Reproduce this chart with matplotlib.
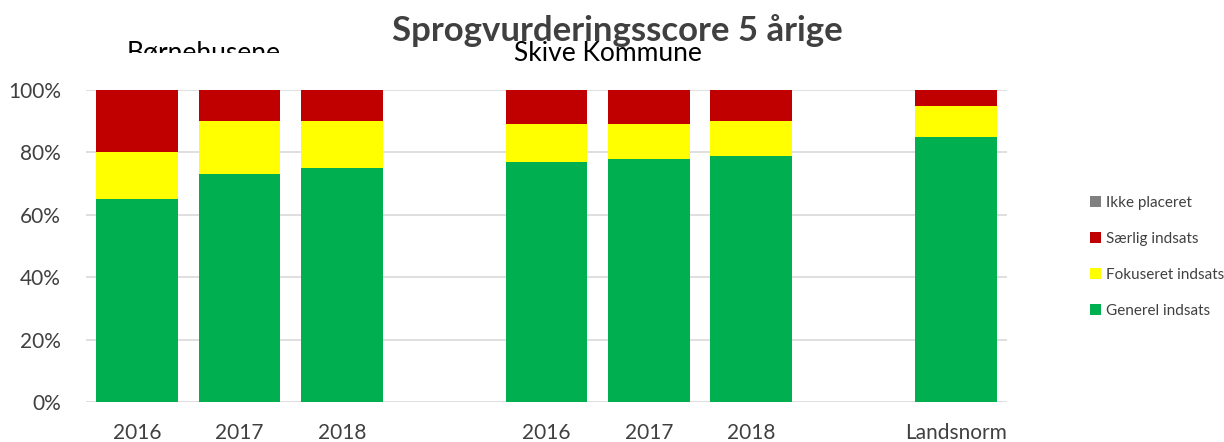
import matplotlib.pyplot as plt
from matplotlib.transforms import Bbox, TransformedBbox

plt.rcParams['font.family'] = ['Lato', 'DejaVu Sans']

positions = [0, 1, 2, 4, 5, 6, 8]
tick_labels = ['2016', '2017', '2018', '2016', '2017', '2018', 'Landsnorm']
generel = [65, 73, 75, 77, 78, 79, 85]
fokuseret = [15, 17, 15, 12, 11, 11, 10]
saerlig = [20, 10, 10, 11, 11, 10, 5]
ikke = [0, 0, 0, 0, 0, 0, 0]

series = [('Generel indsats', generel, '#00B050'),
          ('Fokuseret indsats', fokuseret, '#FFFF00'),
          ('Særlig indsats', saerlig, '#C00000'),
          ('Ikke placeret', ikke, '#808080')]

fig = plt.figure(figsize=(12.24, 4.42), dpi=100)
ax = fig.add_axes([0.0703, 0.0905, 0.7524, 0.7059])

bottom = [0] * len(positions)
handles = []
for name, vals, col in series:
    b = ax.bar(positions, vals, 0.8, bottom=bottom, color=col, label=name, zorder=2)
    handles.append(b)
    bottom = [a + v for a, v in zip(bottom, vals)]

ax.set_xlim(-0.5, 8.5)
ax.set_ylim(0, 100)
ax.set_yticks([0, 20, 40, 60, 80, 100])
ax.set_yticklabels(['0%', '20%', '40%', '60%', '80%', '100%'])
ax.set_xticks(positions)
ax.set_xticklabels(tick_labels)
ax.tick_params(axis='both', length=0, labelsize=15, labelcolor='#404040')
ax.tick_params(axis='x', pad=15)
ax.tick_params(axis='y', pad=18)
ax.grid(axis='y', color='#D9D9D9', linewidth=1.2, zorder=0)
for s in ax.spines.values():
    s.set_visible(False)

leg = fig.legend(handles[::-1], [s[0] for s in series][::-1], loc='center left',
                 bbox_to_anchor=(0.8795, 0.419), frameon=False, fontsize=11,
                 handlelength=0.7, handleheight=0.7, handletextpad=0.3,
                 labelspacing=1.45, labelcolor='#404040')

fig.text(0.504, 0.932, 'Sprogvurderingsscore 5 årige', ha='center', va='center',
         fontsize=25, fontweight='bold', color='#404040')

# group headings, clipped like in the original
t1 = fig.text(0.166, 0.862, 'Børnehusene', ha='center', va='baseline', fontsize=19, color='black')
t1.set_clip_box(TransformedBbox(Bbox([[0, 0.880], [0.4, 1]]), fig.transFigure))
t1.set_clip_on(True)
t2 = fig.text(0.497, 0.862, 'Skive Kommune', ha='center', va='baseline', fontsize=19, color='black')
t2.set_clip_box(TransformedBbox(Bbox([[0.3, 0.857], [0.7, 1]]), fig.transFigure))
t2.set_clip_on(True)

fig.savefig('out.png', dpi=100)
